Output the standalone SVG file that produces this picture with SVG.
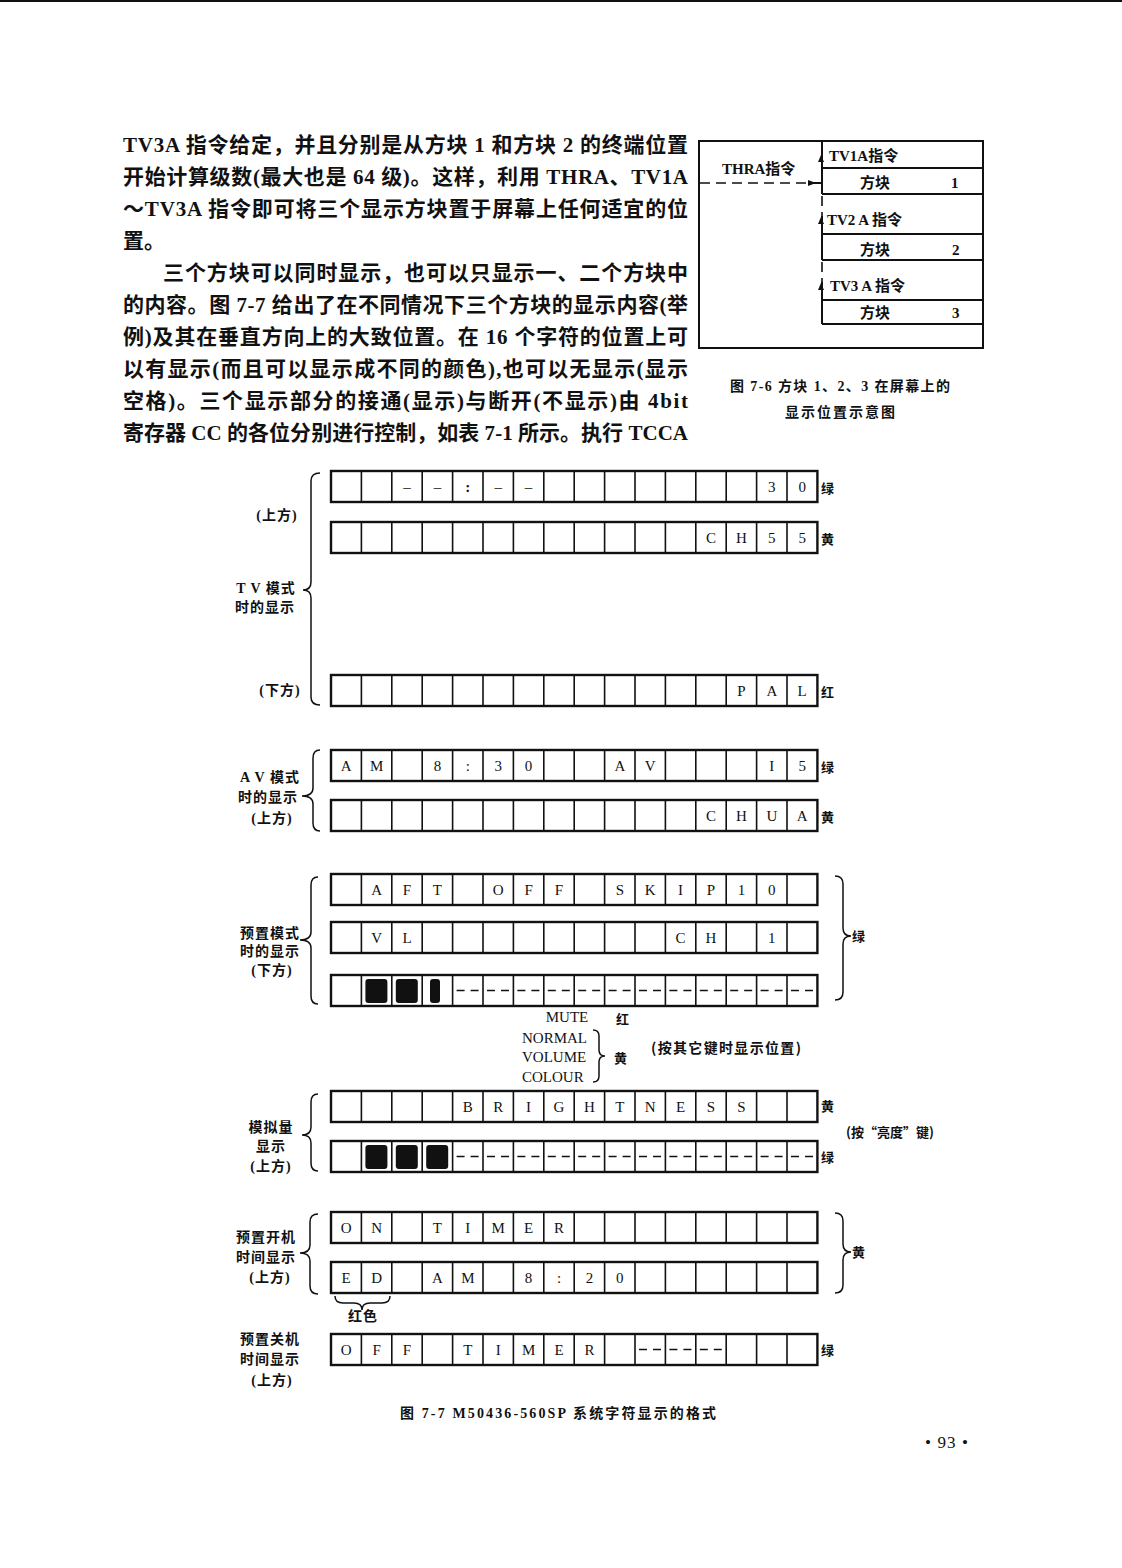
<svg xmlns="http://www.w3.org/2000/svg" width="1122" height="1568" viewBox="0 0 1122 1568">
<style>
.body{font-family:"Liberation Serif","Noto Sans CJK SC",serif;font-size:21px;fill:#111;font-weight:bold}
.c{font-family:"Liberation Serif",serif;font-size:15px;fill:#111;text-anchor:middle}
.lab{font-family:"Liberation Serif","Noto Sans CJK SC",serif;font-size:14px;letter-spacing:1px;font-weight:bold;fill:#111;text-anchor:middle}
.col{font-family:"Noto Sans CJK SC",sans-serif;font-size:13px;font-weight:bold;fill:#111}
.f6{font-family:"Liberation Serif","Noto Sans CJK SC",serif;font-size:15px;font-weight:bold;fill:#111}
.cap{font-family:"Liberation Serif","Noto Sans CJK SC",serif;font-size:14px;font-weight:bold;fill:#111}
.mt{font-family:"Liberation Serif",serif;font-size:15px;fill:#111}
.br{fill:none;stroke:#111;stroke-width:1.5}
.ln{fill:none;stroke:#111;stroke-width:2}
.dsh{fill:none;stroke:#111;stroke-width:1.6;stroke-dasharray:10 6}
</style>
<defs>
<g id="rowshape"><rect x="0" y="0" width="486.4" height="31" fill="none" stroke="#111" stroke-width="2.4"/><path d="M30.4 0v31M60.8 0v31M91.2 0v31M121.6 0v31M152 0v31M182.4 0v31M212.8 0v31M243.2 0v31M273.6 0v31M304 0v31M334.4 0v31M364.8 0v31M395.2 0v31M425.6 0v31M456 0v31" stroke="#111" stroke-width="1.6"/></g>
<g id="dash"><path d="M4 15.5h8M18 15.5h8" stroke="#111" stroke-width="1.6"/></g>
<g id="blk"><rect x="4" y="4" width="22" height="24" rx="3" fill="#111"/></g>
<path id="upar" d="M0 -5L3 2L-3 2Z" fill="#111"/>
</defs>

<line x1="0" y1="1" x2="1122" y2="1" stroke="#111" stroke-width="2"/>

<g id="paragraph" class="body">
<text x="123" y="152" textLength="565" lengthAdjust="spacing">TV3A 指令给定，并且分别是从方块 1 和方块 2 的终端位置</text>
<text x="123" y="184" textLength="565" lengthAdjust="spacing">开始计算级数(最大也是 64 级)。这样，利用 THRA、TV1A</text>
<text x="123" y="216" textLength="565" lengthAdjust="spacing">～TV3A 指令即可将三个显示方块置于屏幕上任何适宜的位</text>
<text x="123" y="248">置。</text>
<text x="163" y="280" textLength="525" lengthAdjust="spacing">三个方块可以同时显示，也可以只显示一、二个方块中</text>
<text x="123" y="312" textLength="565" lengthAdjust="spacing">的内容。图 7-7 给出了在不同情况下三个方块的显示内容(举</text>
<text x="123" y="344" textLength="565" lengthAdjust="spacing">例)及其在垂直方向上的大致位置。在 16 个字符的位置上可</text>
<text x="123" y="376" textLength="565" lengthAdjust="spacing">以有显示(而且可以显示成不同的颜色),也可以无显示(显示</text>
<text x="123" y="408" textLength="565" lengthAdjust="spacing">空格)。三个显示部分的接通(显示)与断开(不显示)由 4bit</text>
<text x="123" y="440" textLength="565" lengthAdjust="spacing">寄存器 CC 的各位分别进行控制，如表 7-1 所示。执行 TCCA</text>
</g>

<g id="fig7-6">
<rect x="699" y="141" width="284" height="207" class="ln"/>
<g id="block1">
<path d="M822 141V194M822 168H983M822 194H983" class="ln"/>
<text x="829" y="161" class="f6">TV1A指令</text>
<text x="860" y="188" class="f6">方块</text><text x="951" y="188" class="f6">1</text>
</g>
<g id="block2">
<path d="M822 216V260M822 234H983M822 260H983" class="ln"/>
<text x="827" y="225" class="f6">TV2 A 指令</text>
<text x="860" y="255" class="f6">方块</text><text x="952" y="255" class="f6">2</text>
</g>
<g id="block3">
<path d="M822 282V324M822 300H983M822 324H983" class="ln"/>
<text x="830" y="291" class="f6">TV3 A 指令</text>
<text x="860" y="318" class="f6">方块</text><text x="952" y="318" class="f6">3</text>
</g>
<text x="722" y="174" class="f6">THRA指令</text>
<g id="fig76-connectors">
<path d="M700 183H808" class="dsh"/>
<path d="M808 183H822" class="ln"/>
<path d="M816 183L808 180L808 186Z" fill="#111"/>
<path d="M822 196V216M822 262V282" class="dsh"/>
<use href="#upar" x="821" y="160"/>
<use href="#upar" x="821" y="222"/>
<use href="#upar" x="821" y="288"/>
</g>
<text x="730" y="391" class="cap" textLength="220" lengthAdjust="spacing">图 7-6   方块 1、2、3 在屏幕上的</text>
<text x="785" y="417" class="cap" textLength="110" lengthAdjust="spacing">显示位置示意图</text>
</g>

<g id="fig7-7">
<g id="tv-row1">
<use href="#rowshape" x="331" y="471"/>
<text class="c" y="492"><tspan x="407">–</tspan><tspan x="437.4">–</tspan><tspan x="467.8" font-weight="bold">:</tspan><tspan x="498.2">–</tspan><tspan x="528.6">–</tspan><tspan x="771.8">3</tspan><tspan x="802.2">0</tspan></text>
<text class="col" x="821" y="493">绿</text>
</g>
<g id="tv-row2">
<use href="#rowshape" x="331" y="522"/>
<text class="c" y="543"><tspan x="711">C</tspan><tspan x="741.4">H</tspan><tspan x="771.8">5</tspan><tspan x="802.2">5</tspan></text>
<text class="col" x="821" y="544">黄</text>
</g>
<g id="tv-row3">
<use href="#rowshape" x="331" y="675"/>
<text class="c" y="696"><tspan x="741.4">P</tspan><tspan x="771.8">A</tspan><tspan x="802.2">L</tspan></text>
<text class="col" x="821" y="697">红</text>
</g>
<g id="tv-label">
<text class="lab" x="277" y="520">(上方)</text>
<text class="lab" x="266" y="593">T V 模式</text>
<text class="lab" x="265" y="612">时的显示</text>
<text class="lab" x="280" y="695">(下方)</text>
</g>

<g id="av-row1">
<use href="#rowshape" x="331" y="750"/>
<text class="c" y="771"><tspan x="346.2">A</tspan><tspan x="376.6">M</tspan><tspan x="437.4">8</tspan><tspan x="467.8">:</tspan><tspan x="498.2">3</tspan><tspan x="528.6">0</tspan><tspan x="619.8">A</tspan><tspan x="650.2">V</tspan><tspan x="771.8">I</tspan><tspan x="802.2">5</tspan></text>
<text class="col" x="821" y="772">绿</text>
</g>
<g id="av-row2">
<use href="#rowshape" x="331" y="800"/>
<text class="c" y="821"><tspan x="711">C</tspan><tspan x="741.4">H</tspan><tspan x="771.8">U</tspan><tspan x="802.2">A</tspan></text>
<text class="col" x="821" y="822">黄</text>
</g>
<g id="av-label">
<text class="lab" x="270" y="782">A V 模式</text>
<text class="lab" x="268" y="802">时的显示</text>
<text class="lab" x="272" y="823">(上方)</text>
</g>

<g id="preset-row1">
<use href="#rowshape" x="331" y="874"/>
<text class="c" y="895"><tspan x="376.6">A</tspan><tspan x="407">F</tspan><tspan x="437.4">T</tspan><tspan x="498.2">O</tspan><tspan x="528.6">F</tspan><tspan x="559">F</tspan><tspan x="619.8">S</tspan><tspan x="650.2">K</tspan><tspan x="680.6">I</tspan><tspan x="711">P</tspan><tspan x="741.4">1</tspan><tspan x="771.8">0</tspan></text>
</g>
<g id="preset-row2">
<use href="#rowshape" x="331" y="922"/>
<text class="c" y="943"><tspan x="376.6">V</tspan><tspan x="407">L</tspan><tspan x="680.6">C</tspan><tspan x="711">H</tspan><tspan x="771.8">1</tspan></text>
</g>
<g id="preset-row3">
<use href="#rowshape" x="331" y="975"/>
<use href="#blk" x="361.4" y="975"/>
<use href="#blk" x="391.8" y="975"/>
<rect x="430" y="979" width="10" height="24" rx="3" fill="#111"/>
<use href="#dash" x="452.6" y="975"/><use href="#dash" x="483" y="975"/><use href="#dash" x="513.4" y="975"/><use href="#dash" x="543.8" y="975"/><use href="#dash" x="574.2" y="975"/><use href="#dash" x="604.6" y="975"/><use href="#dash" x="635" y="975"/><use href="#dash" x="665.4" y="975"/><use href="#dash" x="695.8" y="975"/><use href="#dash" x="726.2" y="975"/><use href="#dash" x="756.6" y="975"/><use href="#dash" x="787" y="975"/>
</g>
<g id="preset-label">
<text class="lab" x="270" y="938">预置模式</text>
<text class="lab" x="270" y="956">时的显示</text>
<text class="lab" x="272" y="975">(下方)</text>
<text class="col" x="852" y="941">绿</text>
</g>

<g id="mute-note">
<text class="mt" x="567" y="1022" text-anchor="middle">MUTE</text>
<text class="col" x="616" y="1024">红</text>
<text class="mt" x="522" y="1043">NORMAL</text>
<text class="mt" x="522" y="1062">VOLUME</text>
<text class="mt" x="522" y="1082">COLOUR</text>
<text class="col" x="614" y="1063">黄</text>
<text class="col" x="651" y="1053" style="font-size:14px" textLength="150" lengthAdjust="spacing">(按其它键时显示位置)</text>
</g>

<g id="analog-row1">
<use href="#rowshape" x="331" y="1091"/>
<text class="c" y="1112"><tspan x="467.8">B</tspan><tspan x="498.2">R</tspan><tspan x="528.6">I</tspan><tspan x="559">G</tspan><tspan x="589.4">H</tspan><tspan x="619.8">T</tspan><tspan x="650.2">N</tspan><tspan x="680.6">E</tspan><tspan x="711">S</tspan><tspan x="741.4">S</tspan></text>
<text class="col" x="821" y="1111">黄</text>
<text class="col" x="846" y="1137">(按“亮度”键)</text>
</g>
<g id="analog-row2">
<use href="#rowshape" x="331" y="1141"/>
<use href="#blk" x="361.4" y="1141"/><use href="#blk" x="391.8" y="1141"/><use href="#blk" x="422.2" y="1141"/>
<use href="#dash" x="452.6" y="1141"/><use href="#dash" x="483" y="1141"/><use href="#dash" x="513.4" y="1141"/><use href="#dash" x="543.8" y="1141"/><use href="#dash" x="574.2" y="1141"/><use href="#dash" x="604.6" y="1141"/><use href="#dash" x="635" y="1141"/><use href="#dash" x="665.4" y="1141"/><use href="#dash" x="695.8" y="1141"/><use href="#dash" x="726.2" y="1141"/><use href="#dash" x="756.6" y="1141"/><use href="#dash" x="787" y="1141"/>
<text class="col" x="821" y="1162">绿</text>
</g>
<g id="analog-label">
<text class="lab" x="271" y="1132">模拟量</text>
<text class="lab" x="271" y="1151">显示</text>
<text class="lab" x="271" y="1171">(上方)</text>
</g>

<g id="ontimer-row1">
<use href="#rowshape" x="331" y="1212"/>
<text class="c" y="1233"><tspan x="346.2">O</tspan><tspan x="376.6">N</tspan><tspan x="437.4">T</tspan><tspan x="467.8">I</tspan><tspan x="498.2">M</tspan><tspan x="528.6">E</tspan><tspan x="559">R</tspan></text>
</g>
<g id="ontimer-row2">
<use href="#rowshape" x="331" y="1262"/>
<text class="c" y="1283"><tspan x="346.2">E</tspan><tspan x="376.6">D</tspan><tspan x="437.4">A</tspan><tspan x="467.8">M</tspan><tspan x="528.6">8</tspan><tspan x="559">:</tspan><tspan x="589.4">2</tspan><tspan x="619.8">0</tspan></text>
</g>
<g id="ontimer-label">
<text class="lab" x="266" y="1242">预置开机</text>
<text class="lab" x="266" y="1262">时间显示</text>
<text class="lab" x="270" y="1282">(上方)</text>
<text class="col" x="852" y="1257">黄</text>
<text class="lab" x="363" y="1321">红色</text>
</g>

<g id="offtimer-row">
<use href="#rowshape" x="331" y="1334"/>
<text class="c" y="1355"><tspan x="346.2">O</tspan><tspan x="376.6">F</tspan><tspan x="407">F</tspan><tspan x="467.8">T</tspan><tspan x="498.2">I</tspan><tspan x="528.6">M</tspan><tspan x="559">E</tspan><tspan x="589.4">R</tspan></text>
<use href="#dash" x="635" y="1334"/><use href="#dash" x="665.4" y="1334"/><use href="#dash" x="695.8" y="1334"/>
<text class="col" x="821" y="1355">绿</text>
</g>
<g id="offtimer-label">
<text class="lab" x="270" y="1344">预置关机</text>
<text class="lab" x="270" y="1364">时间显示</text>
<text class="lab" x="272" y="1385">(上方)</text>
</g>

<g id="braces">
<path class="br" d="M320 473Q311 473 311 481V582Q311 590 303 590Q311 590 311 598V697Q311 705 320 705"/>
<path class="br" d="M320 750Q313 750 313 758V788Q313 796 302 796Q313 796 313 804V823Q313 831 320 831"/>
<path class="br" d="M318 877Q311 877 311 885V932Q311 940 300 940Q311 940 311 948V996Q311 1004 318 1004"/>
<path class="br" d="M835 876Q843 876 843 884V928Q843 936 851 936Q843 936 843 944V992Q843 1000 835 1000"/>
<path class="br" d="M593 1030Q599 1030 599 1036V1050Q599 1056 605 1056Q599 1056 599 1062V1076Q599 1082 593 1082"/>
<path class="br" d="M318 1094Q311 1094 311 1102V1127Q311 1135 302 1135Q311 1135 311 1143V1163Q311 1171 318 1171"/>
<path class="br" d="M318 1214Q310 1214 310 1222V1245Q310 1253 300 1253Q310 1253 310 1261V1286Q310 1294 318 1294"/>
<path class="br" d="M835 1213Q843 1213 843 1221V1244Q843 1252 851 1252Q843 1252 843 1260V1285Q843 1293 835 1293"/>
<path class="br" d="M335 1296Q335 1303 343 1303H354Q362 1303 362 1310Q362 1303 370 1303H382Q390 1303 390 1296"/>
</g>

<text class="cap" x="400" y="1418" textLength="316" lengthAdjust="spacing">图 7-7   M50436-560SP 系统字符显示的格式</text>
<text class="mt" x="925" y="1448" style="font-size:17px" textLength="43" lengthAdjust="spacing">• 93 •</text>
</g>
</svg>
